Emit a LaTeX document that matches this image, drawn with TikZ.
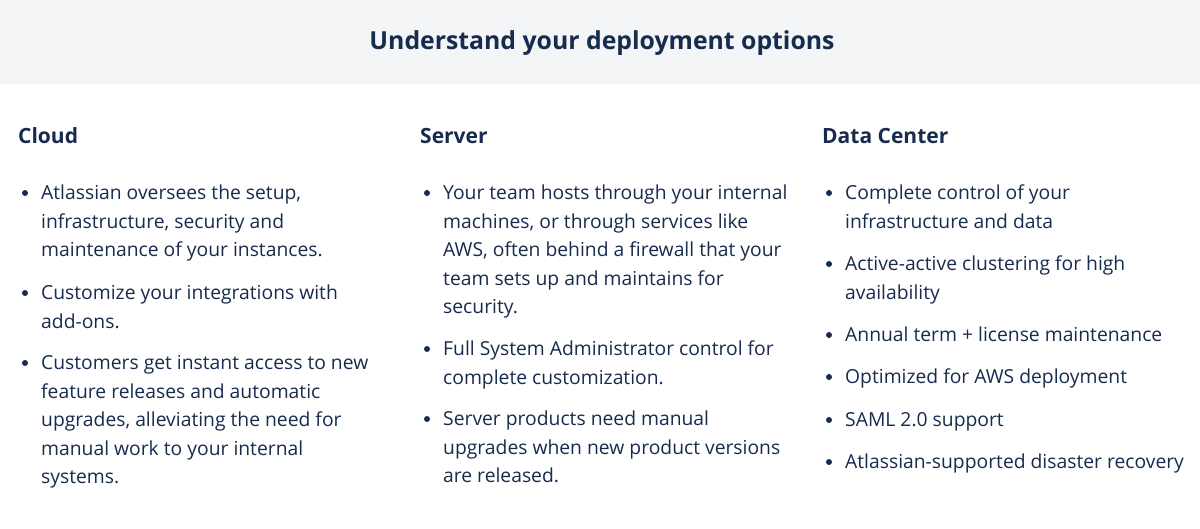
\documentclass[tikz,border=0pt]{standalone}
\usepackage{fontspec}
\setmainfont{Open Sans}
\definecolor{ink}{HTML}{172B4D}
\definecolor{band}{HTML}{F4F5F7}
\begin{document}
\begin{tikzpicture}[x=1pt,y=-1pt,
  ln/.style={anchor=base west,inner sep=0pt,text=ink,font=\fontsize{19.3}{22}\selectfont},
  hd/.style={anchor=base west,inner sep=0pt,text=ink,font=\fontsize{21}{24}\selectfont\bfseries},
  dot/.style={circle,fill=ink,minimum size=6pt,inner sep=0pt}]
\useasboundingbox (0,0) rectangle (1200,528);
\fill[band] (0,0) rectangle (1200,84);
\node[text=ink,font=\fontsize{24.8}{28}\selectfont\bfseries] (title) at (602,43) {Understand your deployment options};
\node[hd] (h1) at (18,143) {Cloud};
\node[hd] (h2) at (420,143) {Server};
\node[hd] (h3) at (822,143) {Data Center};
% Cloud
\node[dot] (b11) at (25,193) {};
\node[ln] (c1) at (41,199.5) {Atlassian oversees the setup,};
\node[ln] (c2) at (41,228) {infrastructure, security and};
\node[ln] (c3) at (41,256.5) {maintenance of your instances.};
\node[dot] (b12) at (25,293) {};
\node[ln] (c4) at (41,299.5) {Customize your integrations with};
\node[ln] (c5) at (41,328) {add-ons.};
\node[dot] (b13) at (25,363) {};
\node[ln] (c6) at (41,369.5) {Customers get instant access to new};
\node[ln] (c7) at (41,398) {feature releases and automatic};
\node[ln] (c8) at (41,426.5) {upgrades, alleviating the need for};
\node[ln] (c9) at (41,455) {manual work to your internal};
\node[ln] (c10) at (41,483.5) {systems.};
% Server
\node[dot] (b21) at (427,193) {};
\node[ln] (s1) at (443,199.5) {Your team hosts through your internal};
\node[ln] (s2) at (443,228) {machines, or through services like};
\node[ln] (s3) at (443,256.5) {AWS, often behind a firewall that your};
\node[ln] (s4) at (443,285) {team sets up and maintains for};
\node[ln] (s5) at (443,313.5) {security.};
\node[dot] (b22) at (427,349) {};
\node[ln] (s6) at (443,355.5) {Full System Administrator control for};
\node[ln] (s7) at (443,384) {complete customization.};
\node[dot] (b23) at (427,419) {};
\node[ln] (s8) at (443,425.5) {Server products need manual};
\node[ln] (s9) at (443,454) {upgrades when new product versions};
\node[ln] (s10) at (443,482.5) {are released.};
% Data Center
\node[dot] (b31) at (829,193) {};
\node[ln] (d1) at (845,199.5) {Complete control of your};
\node[ln] (d2) at (845,228) {infrastructure and data};
\node[dot] (b32) at (829,264) {};
\node[ln] (d3) at (845,270.5) {Active-active clustering for high};
\node[ln] (d4) at (845,299) {availability};
\node[dot] (b33) at (829,335) {};
\node[ln] (d5) at (845,341.5) {Annual term + license maintenance};
\node[dot] (b34) at (829,377) {};
\node[ln] (d6) at (845,383.5) {Optimized for AWS deployment};
\node[dot] (b35) at (829,420) {};
\node[ln] (d7) at (845,426.5) {SAML 2.0 support};
\node[dot] (b36) at (829,462) {};
\node[ln] (d8) at (845,468.5) {Atlassian-supported disaster recovery};
\end{tikzpicture}
\end{document}
